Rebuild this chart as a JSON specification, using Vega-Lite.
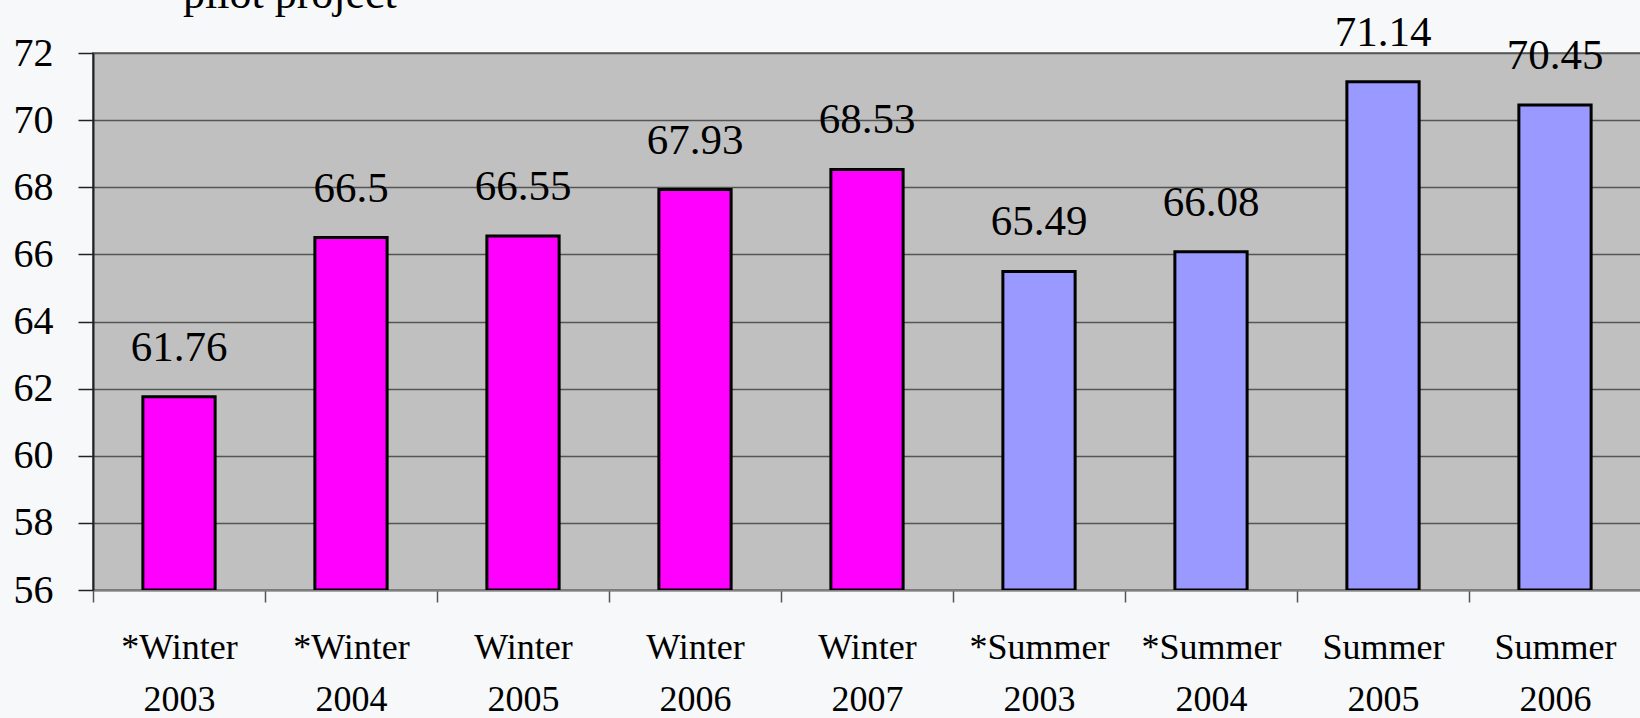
{
  "$schema": "https://vega.github.io/schema/vega-lite/v6.json",
  "autosize": {"type": "none"},
  "padding": {"left": 93, "top": 53, "right": 0, "bottom": 128},
  "width": 1548,
  "height": 537,
  "background": "#f6f8fa",
  "title": {
    "text": "pilot project",
    "anchor": "start",
    "orient": "top",
    "frame": "group",
    "font": "Liberation Serif",
    "fontSize": 44,
    "fontWeight": "normal",
    "color": "#000000",
    "baseline": "alphabetic",
    "offset": 0,
    "dx": 90,
    "dy": 40
  },
  "config": {
    "view": {"fill": "#c0c0c0", "stroke": "#808080", "strokeWidth": 2},
    "font": "Liberation Serif"
  },
  "data": {
    "values": [
      {"period": "*Winter 2003", "value": 61.76, "season": "Winter"},
      {"period": "*Winter 2004", "value": 66.5, "season": "Winter"},
      {"period": "Winter 2005", "value": 66.55, "season": "Winter"},
      {"period": "Winter 2006", "value": 67.93, "season": "Winter"},
      {"period": "Winter 2007", "value": 68.53, "season": "Winter"},
      {"period": "*Summer 2003", "value": 65.49, "season": "Summer"},
      {"period": "*Summer 2004", "value": 66.08, "season": "Summer"},
      {"period": "Summer 2005", "value": 71.14, "season": "Summer"},
      {"period": "Summer 2006", "value": 70.45, "season": "Summer"}
    ]
  },
  "encoding": {
    "x": {
      "field": "period",
      "type": "nominal",
      "sort": null,
      "scale": {"paddingInner": 0, "paddingOuter": 0},
      "axis": {
        "title": null,
        "labelAngle": 0,
        "labelExpr": "split(datum.label, ' ')",
        "labelFont": "Liberation Serif",
        "labelFontSize": 36,
        "labelColor": "#000000",
        "labelLineHeight": 52,
        "labelBaseline": "alphabetic",
        "labelPadding": 56,
        "tickBand": "extent",
        "tickSize": 12,
        "tickColor": "#555555",
        "tickWidth": 1.5,
        "domainColor": "#808080",
        "domainWidth": 2
      }
    },
    "y": {
      "field": "value",
      "type": "quantitative",
      "scale": {"domain": [56, 72], "nice": false, "zero": false},
      "axis": {
        "title": null,
        "values": [56, 58, 60, 62, 64, 66, 68, 70, 72],
        "labelFont": "Liberation Serif",
        "labelFontSize": 40,
        "labelColor": "#000000",
        "labelPadding": 25,
        "tickSize": 15,
        "tickColor": "#222222",
        "tickWidth": 1.5,
        "domainColor": "#222222",
        "domainWidth": 2,
        "grid": true,
        "gridColor": "#555555",
        "gridWidth": 1.5
      }
    }
  },
  "layer": [
    {
      "mark": {"type": "bar", "width": {"band": 0.42}, "stroke": "#000000", "strokeWidth": 3, "clip": true},
      "encoding": {
        "y2": {"datum": 56},
        "color": {
          "field": "season",
          "type": "nominal",
          "scale": {"domain": ["Winter", "Summer"], "range": ["#ff00ff", "#9999ff"]},
          "legend": null
        }
      }
    },
    {
      "mark": {"type": "text", "baseline": "alphabetic", "dy": -36, "fontSize": 43, "font": "Liberation Serif", "color": "#000000"},
      "encoding": {
        "text": {"field": "value", "type": "quantitative"}
      }
    }
  ]
}
